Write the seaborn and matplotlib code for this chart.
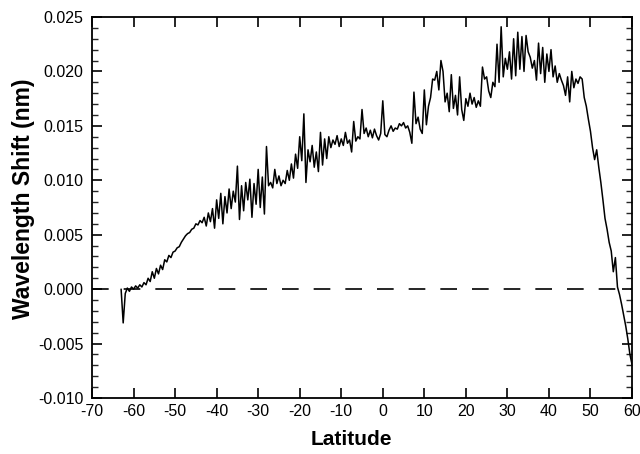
import numpy as np
import pandas as pd
import matplotlib
matplotlib.use("Agg")
import matplotlib.pyplot as plt
from matplotlib.ticker import MultipleLocator, FormatStrFormatter
import seaborn as sns

# Latitude (deg), sampled every 0.5 deg from -63 to 60
lat_start = -63.0
lat_step = 0.5

shift_south = [  # -63.0 .. -40.5
    0.0000, -0.0031, -0.0004, 0.0001, -0.0002, 0.0002, 0.0000, 0.0003, 0.0001, 0.0004,
    0.0002, 0.0006, 0.0004, 0.0010, 0.0007, 0.0016, 0.0010, 0.0019, 0.0014, 0.0022,
    0.0018, 0.0027, 0.0025, 0.0031, 0.0029, 0.0034, 0.0035, 0.0038, 0.0039, 0.0043,
    0.0046, 0.0049, 0.0051, 0.0052, 0.0055, 0.0056, 0.0060, 0.0059, 0.0063, 0.0061,
    0.0066, 0.0058, 0.0070, 0.0062, 0.0074, 0.0056,
]
shift_midsouth = [  # -40.0 .. -0.5
    0.0082, 0.0065, 0.0088, 0.0060, 0.0085, 0.0070, 0.0092, 0.0074, 0.0090, 0.0080,
    0.0113, 0.0064, 0.0095, 0.0072, 0.0098, 0.0082, 0.0101, 0.0066, 0.0097, 0.0078,
    0.0110, 0.0075, 0.0103, 0.0069, 0.0131, 0.0095, 0.0098, 0.0093, 0.0110, 0.0097,
    0.0104, 0.0095, 0.0100, 0.0097, 0.0109, 0.0100, 0.0115, 0.0102, 0.0124, 0.0111,
    0.0140, 0.0118, 0.0161, 0.0098, 0.0128, 0.0117, 0.0132, 0.0112, 0.0126, 0.0108,
    0.0144, 0.0114, 0.0138, 0.0120, 0.0140, 0.0130, 0.0137, 0.0133, 0.0141, 0.0131,
    0.0138, 0.0132, 0.0144, 0.0134, 0.0137, 0.0126, 0.0154, 0.0136, 0.0140, 0.0138,
    0.0165, 0.0143, 0.0148, 0.0140, 0.0146, 0.0139, 0.0147, 0.0141, 0.0137, 0.0143,
]
shift_midnorth = [  # 0.0 .. 39.5
    0.0173, 0.0142, 0.0140, 0.0146, 0.0150, 0.0145, 0.0148, 0.0147, 0.0152, 0.0150,
    0.0153, 0.0148, 0.0150, 0.0144, 0.0134, 0.0181, 0.0152, 0.0158, 0.0147, 0.0143,
    0.0183, 0.0151, 0.0168, 0.0176, 0.0193, 0.0192, 0.0200, 0.0183, 0.0210, 0.0200,
    0.0172, 0.0180, 0.0163, 0.0197, 0.0166, 0.0178, 0.0160, 0.0195, 0.0165, 0.0155,
    0.0175, 0.0168, 0.0180, 0.0170, 0.0176, 0.0167, 0.0173, 0.0168, 0.0204, 0.0193,
    0.0195, 0.0182, 0.0176, 0.0190, 0.0186, 0.0225, 0.0190, 0.0241, 0.0195, 0.0212,
    0.0202, 0.0218, 0.0193, 0.0230, 0.0196, 0.0236, 0.0202, 0.0232, 0.0200, 0.0233,
    0.0218, 0.0213, 0.0203, 0.0210, 0.0192, 0.0226, 0.0198, 0.0222, 0.0190, 0.0216,
]
shift_north = [  # 40.0 .. 60.0
    0.0200, 0.0220, 0.0195, 0.0205, 0.0190, 0.0198, 0.0192, 0.0187, 0.0178, 0.0195,
    0.0172, 0.0200, 0.0185, 0.0193, 0.0189, 0.0195, 0.0193, 0.0176, 0.0168, 0.0156,
    0.0145, 0.0130, 0.0119, 0.0128, 0.0112, 0.0098, 0.0082, 0.0065, 0.0055, 0.0043,
    0.0035, 0.0016, 0.0029, 0.0002, -0.0005, -0.0014, -0.0024, -0.0034, -0.0046, -0.0060,
    -0.0069,
]

x_ticks = [-70, -60, -50, -40, -30, -20, -10, 0, 10, 20, 30, 40, 50, 60]
y_ticks = [-0.010, -0.005, 0.000, 0.005, 0.010, 0.015, 0.020, 0.025]

shift = shift_south + shift_midsouth + shift_midnorth + shift_north
latitude = [lat_start + lat_step * i for i in range(len(shift))]
df = pd.DataFrame({"Latitude": latitude, "Shift": shift})

sns.set_style("ticks")
plt.rcParams["font.family"] = ["Liberation Sans", "DejaVu Sans"]
plt.rcParams["axes.unicode_minus"] = False
plt.rcParams["text.color"] = "black"
plt.rcParams["axes.labelcolor"] = "black"

fig = plt.figure(figsize=(6.4, 4.54), dpi=100)
ax = fig.add_axes([0.1438, 0.1233, 0.8437, 0.8393])

ax.axhline(0, color="black", lw=1.2, dashes=(10, 9), zorder=1)
sns.lineplot(data=df, x="Latitude", y="Shift", ax=ax, color="black",
             lw=1.1, estimator=None, sort=False, zorder=2)

ax.set_xlim(-70, 60)
ax.set_ylim(-0.010, 0.025)
ax.set_xticks(x_ticks)
ax.set_yticks(y_ticks)
ax.yaxis.set_minor_locator(MultipleLocator(0.001))
ax.yaxis.set_major_formatter(FormatStrFormatter("%.3f"))

ax.tick_params(axis="both", which="major", direction="in", length=7, width=1.2,
               labelsize=11.5, colors="black")
ax.tick_params(axis="y", which="minor", direction="in", length=4, width=1.0,
               left=True, right=True)
ax.tick_params(axis="x", top=True, bottom=True, pad=4)
ax.tick_params(axis="y", left=True, right=True, pad=6)
for s in ax.spines.values():
    s.set_visible(True)
    s.set_linewidth(1.3)
    s.set_color("black")

ax.set_xlabel("Latitude", fontsize=15, fontweight="bold", color="black")
ax.set_ylabel("Wavelength Shift (nm)", fontsize=16.5, fontweight="bold", color="black")
ax.xaxis.set_label_coords(0.481, -0.084)
ax.yaxis.set_label_coords(-0.106, 0.522)

fig.savefig("out.png", dpi=100)
